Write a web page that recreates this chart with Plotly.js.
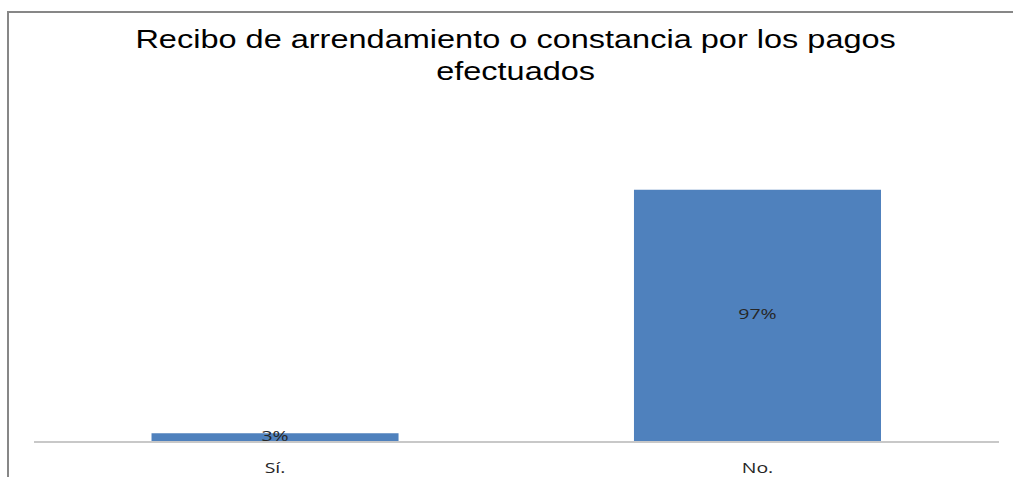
<!DOCTYPE html>
<html>
<head>
<meta charset="utf-8">
<script src="https://cdn.plot.ly/plotly-3.0.1.min.js"></script>
<style>
html,body{margin:0;padding:0;background:#fff;overflow:hidden;}
#wrap{position:relative;width:1013px;height:477px;overflow:hidden;}
#chart{position:absolute;left:0;top:0;width:779px;height:477px;transform:scaleX(1.3004);transform-origin:0 0;}
#frame{position:absolute;left:7px;top:11px;width:1010px;height:470px;border-left:2px solid #878787;border-top:2px solid #878787;pointer-events:none;}
</style>
</head>
<body>
<div id="wrap"><div id="chart"></div><div id="frame"></div></div>
<script>
const categories = ['Sí.', 'No.'];
const values = [0.03, 0.97];
const labels = ['3%', '97%'];

const bars = {
  type: 'bar',
  x: categories,
  y: values,
  marker: {color: '#4F81BD'},
  textposition: 'none',
  hoverinfo: 'skip'
};
const txt = {
  type: 'scatter',
  mode: 'text',
  x: categories,
  y: values.map(v => v / 2),
  text: labels,
  textfont: {family: 'Open Sans, Liberation Sans, sans-serif', size: 15, color: '#262626'},
  hoverinfo: 'skip'
};

const layout = {
  width: 779,
  height: 477,
  margin: {l: 26.2, r: 10.8, t: 182, b: 36},
  paper_bgcolor: '#ffffff',
  plot_bgcolor: '#ffffff',
  showlegend: false,
  bargap: 0.488,
  title: {
    text: 'Recibo de arrendamiento o constancia por los pagos<br>efectuados',
    font: {family: 'Liberation Sans, Arial, sans-serif', size: 25, color: '#000000'},
    x: 0.509, xanchor: 'center', xref: 'container',
    y: 1 - 48/477, yanchor: 'top', yref: 'container'
  },
  xaxis: {
    type: 'category',
    showgrid: false,
    showline: true,
    linecolor: '#c8c8c8',
    linewidth: 2,
    ticks: 'outside',
    ticklen: 12,
    tickcolor: 'rgba(0,0,0,0)',
    tickfont: {family: 'Open Sans, Liberation Sans, sans-serif', size: 15, color: '#262626'},
    zeroline: false
  },
  yaxis: {
    range: [0, 1],
    showgrid: false,
    showticklabels: false,
    zeroline: false,
    showline: false,
    ticks: ''
  }
};

Plotly.newPlot('chart', [bars, txt], layout, {displayModeBar: false, staticPlot: true});
</script>
</body>
</html>
